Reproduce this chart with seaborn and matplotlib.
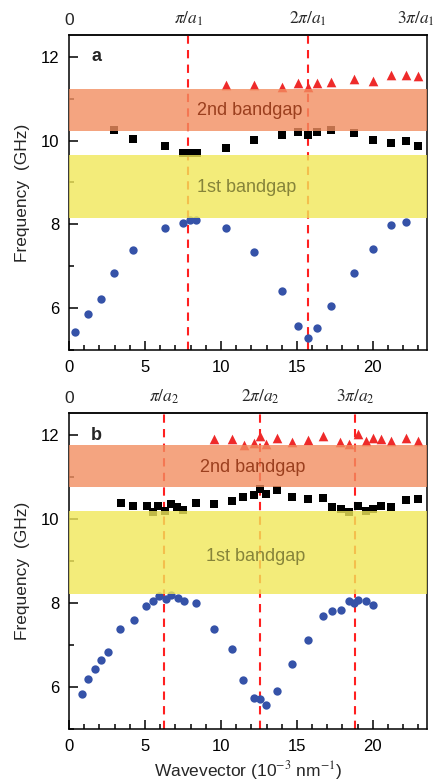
import numpy as np
import pandas as pd
import seaborn as sns
import matplotlib
import matplotlib.pyplot as plt
import matplotlib.transforms as mtransforms
from matplotlib.ticker import MultipleLocator

matplotlib.use('Agg')

# ---- datos panel a (a1 = 400 nm) ----
a_blue_k = [0.41, 1.27, 2.13, 2.96, 4.23, 6.29, 7.52, 7.96, 8.36, 10.33, 12.2, 14.0,
            15.07, 15.72, 16.34, 17.26, 18.73, 20.02, 21.18, 22.15]
a_blue_f = [5.44, 5.86, 6.21, 6.85, 7.38, 7.91, 8.04, 8.11, 8.10, 7.91, 7.33, 6.40,
            5.58, 5.28, 5.52, 6.04, 6.85, 7.42, 7.99, 8.06]
a_black_k = [2.98, 4.23, 6.29, 7.48, 7.85, 8.18, 8.44, 10.33, 12.2, 14.0, 15.07, 15.72,
             16.34, 17.26, 18.73, 20.02, 21.18, 22.15, 22.94]
a_black_f = [10.25, 10.04, 9.87, 9.70, 9.70, 9.70, 9.70, 9.83, 10.02, 10.13, 10.20, 10.14,
             10.20, 10.25, 10.18, 10.02, 9.94, 10.00, 9.88]
a_red_k = [10.33, 12.2, 14.0, 15.07, 15.72, 16.34, 17.26, 18.73, 20.02, 21.18, 22.15, 22.94]
a_red_f = [11.33, 11.32, 11.28, 11.38, 11.29, 11.38, 11.40, 11.46, 11.42, 11.56, 11.56, 11.54]
a_gap1 = (8.14, 9.66)
a_gap2 = (10.24, 11.23)
a_lattice = 400.0

# ---- datos panel b (a2 = 500 nm) ----
b_blue_k = [0.83, 1.27, 1.69, 2.13, 2.57, 3.38, 4.25, 5.07, 5.50, 5.92, 6.36, 6.73, 7.15,
            7.57, 8.36, 9.52, 10.72, 11.47, 12.2, 12.59, 12.96, 13.68, 14.71, 15.7, 16.69,
            17.30, 17.9, 18.44, 18.73, 18.99, 19.52, 20.02]
b_blue_f = [5.83, 6.18, 6.44, 6.64, 6.83, 7.39, 7.60, 7.92, 8.06, 8.17, 8.10, 8.19, 8.12,
            8.05, 7.99, 7.39, 6.90, 6.16, 5.75, 5.71, 5.57, 5.90, 6.55, 7.12, 7.69,
            7.80, 7.83, 8.04, 7.99, 8.07, 8.05, 7.96]
b_black_k = [3.40, 4.23, 5.11, 5.50, 5.88, 6.32, 6.69, 7.13, 7.52, 8.36, 9.52, 10.72, 11.47,
             12.2, 12.59, 12.96, 13.68, 14.71, 15.7, 16.69, 17.30, 17.9, 18.44, 18.99,
             19.52, 20.02, 20.53, 21.18, 22.15, 22.94]
b_black_f = [10.39, 10.31, 10.31, 10.17, 10.32, 10.20, 10.37, 10.28, 10.21, 10.39, 10.37,
             10.43, 10.52, 10.57, 10.71, 10.60, 10.69, 10.52, 10.48, 10.50, 10.28, 10.23,
             10.17, 10.32, 10.20, 10.25, 10.30, 10.28, 10.45, 10.49]
b_red_k = [9.56, 10.72, 11.51, 12.2, 12.59, 12.96, 13.68, 14.71, 15.7, 16.69, 17.85, 18.44,
           18.99, 19.52, 20.02, 20.53, 21.18, 22.15, 22.94]
b_red_f = [11.90, 11.90, 11.76, 11.82, 11.98, 11.80, 11.92, 11.84, 11.88, 11.98, 11.84,
           11.80, 12.02, 11.86, 11.94, 11.90, 11.85, 11.92, 11.86]
b_gap1 = (8.21, 10.19)
b_gap2 = (10.77, 11.76)
b_lattice = 500.0

sns.set_theme(style="white")
plt.rcParams['font.family'] = ['Liberation Sans', 'DejaVu Sans']
plt.rcParams['mathtext.fontset'] = 'stix'
plt.rcParams['axes.linewidth'] = 1.1

blue = "#3552a8"
red = "#ee2a2a"
orange = "#f28e60"
yellow = "#f1e859"

fig = plt.figure(figsize=(4.35, 7.81), dpi=100)
ax_a = fig.add_axes([0.1586, 0.5518, 0.823, 0.4034])
ax_b = fig.add_axes([0.1586, 0.0666, 0.823, 0.4042])

xmax = 3 * np.pi / a_lattice * 1e3


def draw_panel(ax, lat, bk, bf, sk, sf, rk, rf, gap1, gap2, letter, g2_pos, g1_pos, idx):
    kpi = np.pi / lat * 1e3
    for n in range(1, 4):
        if n * kpi < xmax - 0.1:
            ax.axvline(n * kpi, color="#ff2020", ls=(0, (4, 3)), lw=1.5, zorder=1)
    sns.scatterplot(x=bk, y=bf, marker="o", color=blue, s=36, linewidth=0, ax=ax, zorder=2)
    sns.scatterplot(x=sk, y=sf, marker="s", color="black", s=30, linewidth=0, ax=ax, zorder=2)
    sns.scatterplot(x=rk, y=rf, marker="^", color=red, s=48, linewidth=0, ax=ax, zorder=2)
    ax.axhspan(gap2[0], gap2[1], color=orange, alpha=0.8, lw=0, zorder=3)
    ax.axhspan(gap1[0], gap1[1], color=yellow, alpha=0.8, lw=0, zorder=3)
    ax.text(g2_pos[0], g2_pos[1], "2nd bandgap", color="#9b3f1e", fontsize=13,
            ha="center", va="center", zorder=4)
    ax.text(g1_pos[0], g1_pos[1], "1st bandgap", color="#86843a", fontsize=13,
            ha="center", va="center", zorder=4)
    ax.text(1.8, 12.0, letter, fontsize=13, fontweight="bold", ha="center", va="center")

    ax.set_xlim(0, xmax)
    ax.set_ylim(5.0, 12.52)
    ax.xaxis.set_major_locator(MultipleLocator(5))
    ax.xaxis.set_minor_locator(MultipleLocator(1))
    ax.yaxis.set_major_locator(MultipleLocator(2))
    ax.yaxis.set_minor_locator(MultipleLocator(1))
    ax.tick_params(which="both", direction="in", top=False, right=False,
                   bottom=True, left=True, labelsize=12, width=1.1, colors="black")
    ax.tick_params(which="major", length=6.5, pad=7)
    ax.tick_params(which="minor", length=3.6)
    ax.set_ylabel("Frequency  (GHz)", fontsize=12.5, labelpad=8)
    ax.set_xlabel("")
    for s in ax.spines.values():
        s.set_color("black")

    sec = ax.secondary_xaxis("top")
    labels = ["0"] + [r"$%s\pi/a_%d$" % ("" if n == 1 else str(n), idx) for n in range(1, 4)]
    sec.set_xticks([0, kpi, 2 * kpi, 3 * kpi], labels)
    sec.tick_params(length=0, labelsize=12.5, pad=5)
    # the last label sits on the right spine; pull it inward so it stays on the canvas
    fig.canvas.draw()
    last = sec.get_xticklabels()[-1]
    if 3 * kpi > xmax - 0.1:
        shift = mtransforms.ScaledTranslation(-8 / 72, 0, fig.dpi_scale_trans)
        last.set_transform(last.get_transform() + shift)


draw_panel(ax_a, a_lattice, a_blue_k, a_blue_f, a_black_k, a_black_f, a_red_k, a_red_f,
           a_gap1, a_gap2, "a", (11.9, 10.71), (11.7, 8.88), 1)
draw_panel(ax_b, b_lattice, b_blue_k, b_blue_f, b_black_k, b_black_f, b_red_k, b_red_f,
           b_gap1, b_gap2, "b", (12.1, 11.22), (12.3, 9.11), 2)

ax_b.set_xlabel(r"Wavevector (10$^{-3}$ nm$^{-1}$)", fontsize=12.5, labelpad=4)

fig.savefig("out.png", dpi=100)
plt.close()
